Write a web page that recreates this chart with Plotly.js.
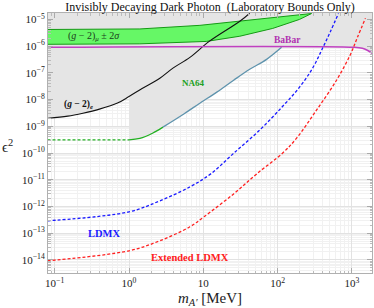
<!DOCTYPE html>
<html>
<head>
<meta charset="utf-8">
<script src="https://cdn.plot.ly/plotly-3.0.1.min.js"></script>
<style>html,body{margin:0;padding:0;background:#fff;}#chart{width:374px;height:308px;}</style>
</head>
<body>
<div id="chart"></div>
<script>
// ---- data (m_A' in MeV, epsilon^2) ----
const gm2eM   = [0.08, 0.15, 0.24, 0.4, 0.7, 1.0, 1.5, 2.6, 3.9, 6.6, 12, 31, 42];
const gm2eE   = [2.0e-9, 2.4e-9, 3.1e-9, 4.4e-9, 7.4e-9, 1.3e-8, 2.6e-8, 6.3e-8, 1.5e-7, 3.8e-7, 1.5e-6, 8.5e-6, 1.7e-5];

const gm2muUpM = [0.08, 1.4, 9.0, 31, 78, 145, 286];
const gm2muUpE = [4.2e-6, 4.4e-6, 6.0e-6, 8.5e-6, 1.15e-5, 1.35e-5, 1.66e-5];
const gm2muLoM = [0.08, 1.4, 11, 31, 86, 197, 286];
const gm2muLoE = [1.17e-6, 1.22e-6, 1.5e-6, 2.35e-6, 4.6e-6, 1.0e-5, 1.66e-5];

const babarM = [0.08, 1080, 1380, 1610, 1880];
const babarE = [9.0e-7, 9.0e-7, 8.3e-7, 7.0e-7, 5.4e-7];

const na64ProjM = [0.08, 1];
const na64ProjE = [3.1e-10, 3.1e-10];
const na64GreenM = [1, 1.4, 2.1, 2.86];
const na64GreenE = [3.1e-10, 3.5e-10, 5.6e-10, 9.3e-10];
const na64BlueM = [2.86, 5.47, 8.97, 15.2, 25.6, 42.1, 71.1, 113];
const na64BlueE = [9.3e-10, 2.9e-9, 7.3e-9, 1.9e-8, 5.3e-8, 1.36e-7, 3.2e-7, 9.0e-7];

const ldmxM = [0.08, 1, 2.6, 6.6, 12.6, 24.9, 57.3, 117, 197, 295, 402, 514, 659];
const ldmxE = [2.9e-13, 6.3e-13, 1.62e-12, 5.4e-12, 1.66e-11, 9.1e-11, 7.2e-10, 5.6e-9, 2.9e-8, 1.49e-7, 8.3e-7, 3.56e-6, 1.67e-5];

const extLdmxM = [0.08, 1, 2.6, 6.6, 10.2, 25.6, 52.2, 117, 180, 333, 620, 955, 1186, 1518];
const extLdmxE = [9.3e-15, 2.2e-14, 5.2e-14, 1.74e-13, 4.1e-13, 2.95e-12, 1.65e-11, 1.0e-10, 3.6e-10, 4.0e-9, 5.3e-8, 4.9e-7, 2.14e-6, 1.1e-5];

const xTickVals = [0.1, 1, 10, 100, 1000];
const xTickText = ['10<sup>\u22121</sup>', '10<sup>0</sup>', '10', '10<sup>2</sup>', '10<sup>3</sup>'];
const yTickVals = [1e-14, 1e-13, 1e-12, 1e-11, 1e-10, 1e-9, 1e-8, 1e-7, 1e-6, 1e-5];
const yTickText = ['14','13','12','11','10','9','8','7','6','5'].map(p => '10<sup>\u2212' + p + '</sup>');

// ---- excluded region (grey) built from the bounds ----
const FAR_X_LO = 0.05, FAR_X_HI = 3000, FAR_Y_HI = 1e-4;
const exclM = [], exclE = [];
gm2eM.forEach((m, i) => { if (m <= 1) { exclM.push(m); exclE.push(gm2eE[i]); } });
na64GreenM.forEach((m, i) => { exclM.push(m); exclE.push(na64GreenE[i]); });
na64BlueM.forEach((m, i) => { exclM.push(m); exclE.push(na64BlueE[i]); });
babarM.forEach((m, i) => { if (m > na64BlueM[na64BlueM.length - 1]) { exclM.push(m); exclE.push(babarE[i]); } });
exclM.push(FAR_X_HI, FAR_X_HI, FAR_X_LO, FAR_X_LO);
exclE.push(babarE[babarE.length - 1], FAR_Y_HI, FAR_Y_HI, gm2eE[0]);

function minorVals(lo, hi) {
  const v = [];
  for (let p = lo; p <= hi; p++) for (let k = 2; k <= 9; k++) v.push(k * Math.pow(10, p));
  return v;
}

const SERIF = 'Liberation Serif, Times New Roman, serif';
const DASH = '3px,2px';

const traces = [
  {x: exclM, y: exclE, mode: 'lines', fill: 'toself', fillcolor: '#e5e5e5', line: {width: 0, color: 'rgba(0,0,0,0)'}, hoverinfo: 'skip'},
  {x: gm2muUpM.concat(gm2muLoM.slice().reverse()), y: gm2muUpE.concat(gm2muLoE.slice().reverse()),
   mode: 'lines', fill: 'toself', fillcolor: '#66f766', line: {color: '#159a15', width: 1}},
  {x: na64ProjM, y: na64ProjE, mode: 'lines', line: {color: '#22b022', width: 1.3, dash: DASH}},
  {x: na64GreenM, y: na64GreenE, mode: 'lines', line: {color: '#22b022', width: 1.3, shape: 'spline'}},
  {x: na64BlueM, y: na64BlueE, mode: 'lines', line: {color: '#5e93ad', width: 1.3, shape: 'spline'}},
  {x: gm2eM, y: gm2eE, mode: 'lines', line: {color: '#111111', width: 1.1, shape: 'spline'}},
  {x: babarM, y: babarE, mode: 'lines', line: {color: '#c040c0', width: 1.5, shape: 'spline'}},
  {x: ldmxM, y: ldmxE, mode: 'lines', line: {color: '#1a1aff', width: 1.3, dash: DASH, shape: 'spline'}},
  {x: extLdmxM, y: extLdmxE, mode: 'lines', line: {color: '#ff2020', width: 1.3, dash: DASH, shape: 'spline'}}
];

const L = Math.log10;
const ann = (txt, m, e, color, size) => ({text: txt, x: L(m), y: L(e), xref: 'x', yref: 'y', showarrow: false,
  font: {family: SERIF, size: size, color: color}, xanchor: 'center', yanchor: 'middle'});

const layout = {
  width: 374, height: 308,
  margin: {l: 48, r: 1.5, t: 13, b: 35},
  paper_bgcolor: '#ffffff', plot_bgcolor: '#ffffff',
  showlegend: false,
  title: {text: 'Invisibly Decaying Dark Photon\u00a0 (Laboratory Bounds Only)', font: {family: SERIF, size: 12, color: '#111'},
          x: 0.5, xref: 'paper', xanchor: 'center', y: 1 - 6.5 / 308, yref: 'container', yanchor: 'middle'},
  xaxis: {type: 'log', range: [-1.09, 3.27], tickmode: 'array', tickvals: xTickVals, ticktext: xTickText,
          ticks: 'inside', ticklen: 5, tickcolor: '#aaaaaa', showline: true, linecolor: '#b0b0b0', linewidth: 1, mirror: 'ticks',
          showgrid: true, gridcolor: '#e2e2e2', zeroline: false,
          minor: {tickmode: 'array', tickvals: minorVals(-2, 3), ticks: 'inside', ticklen: 2.5, tickcolor: '#bbbbbb', showgrid: true, gridcolor: '#f1f1f1'},
          tickfont: {family: SERIF, size: 11, color: '#222'},
          title: {text: '<i>m</i><sub><i>A\u2032</i></sub> [MeV]', font: {family: SERIF, size: 15, color: '#222'}, standoff: 4}},
  yaxis: {type: 'log', range: [-14.49, -4.76], tickmode: 'array', tickvals: yTickVals, ticktext: yTickText,
          ticks: 'inside', ticklen: 5, tickcolor: '#aaaaaa', showline: true, linecolor: '#b0b0b0', linewidth: 1, mirror: 'ticks',
          showgrid: true, gridcolor: '#e2e2e2', zeroline: false,
          minor: {tickmode: 'array', tickvals: minorVals(-15, -5), ticks: 'inside', ticklen: 2.5, tickcolor: '#bbbbbb', showgrid: true, gridcolor: '#f1f1f1'},
          tickfont: {family: SERIF, size: 11, color: '#222'}},
  annotations: [
    ann('(<i>g</i> \u2212 2)<sub><i>\u03bc</i></sub> \u00b1 2<i>\u03c3</i>', 0.34, 2.35e-6, '#1b3b1b', 10),
    ann('<b>BaBar</b>', 136, 1.66e-6, '#b030b0', 9.5),
    ann('<b>NA64</b>', 7.2, 4.1e-8, '#22a022', 9),
    ann('<b>(<i>g</i> \u2212 2)<sub><i>e</i></sub></b>', 0.206, 6.8e-9, '#111111', 9.5),
    ann('<b>LDMX</b>', 0.46, 9.5e-14, '#1a1aff', 10.5),
    ann('<b>Extended LDMX</b>', 6.6, 1.2e-14, '#ff2020', 10.5),
    {text: '\u03f5<sup>2</sup>', xref: 'paper', yref: 'paper', x: -0.125, y: 0.49, showarrow: false,
     font: {family: SERIF, size: 15, color: '#222'}, xanchor: 'center', yanchor: 'middle'}
  ]
};

Plotly.newPlot('chart', traces, layout, {staticPlot: true, displayModeBar: false});
</script>
</body>
</html>
